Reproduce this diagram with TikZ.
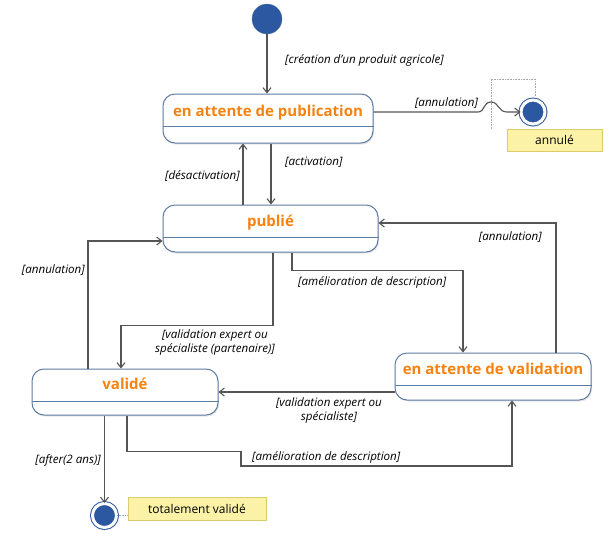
\documentclass[tikz,border=0pt]{standalone}
\usepackage{fontspec}
\setmainfont{Open Sans}
\usetikzlibrary{arrows.meta,shadows}
\definecolor{stateline}{HTML}{5B7BA3}
\definecolor{titleorange}{HTML}{F7820F}
\definecolor{dotblue}{HTML}{2B58A0}
\definecolor{notefill}{HTML}{FBF2A8}
\definecolor{noteline}{HTML}{DCCB6A}
\definecolor{arrowgray}{HTML}{555555}
\begin{document}
\begin{tikzpicture}[x=1pt,y=-1pt,
    state/.style={draw=stateline,line width=1pt,fill=white,rounded corners=12pt,
        drop shadow={opacity=0.2,shadow xshift=1pt,shadow yshift=-1.5pt},
        inner sep=0pt,text height=11pt,text depth=16pt,
        font=\fontsize{15}{17}\selectfont\bfseries,text=titleorange},
    start/.style={circle,fill=dotblue,draw=stateline,minimum size=30pt,inner sep=0pt},
    final/.style={circle,fill=dotblue,draw=dotblue,double=white,double distance=3pt,
        line width=1pt,minimum size=24pt,inner sep=0pt},
    note/.style={draw=noteline,fill=notefill,line width=0.8pt,inner sep=0pt,
        font=\fontsize{12}{14}\selectfont},
    guard/.style={font=\fontsize{11.6}{14}\selectfont\itshape,inner sep=1pt,align=center},
    trans/.style={draw=arrowgray,line width=1.1pt,-{Straight Barb[length=5pt,width=8pt]}},
    notelink/.style={draw=gray!70,densely dotted,line width=0.6pt}]
    \useasboundingbox (0,0) rectangle (612,550);

    \node[start] (init) at (267,19) {};
    \node[state,minimum width=210pt,minimum height=49pt] (pub) at (268,118.5) {en attente de publication};
    \node[state,minimum width=215pt,minimum height=47pt] (publie) at (270.5,228.5) {publié};
    \node[state,minimum width=196pt,minimum height=47pt] (attval) at (493,376.5) {en attente de validation};
    \node[state,minimum width=186pt,minimum height=46pt] (valide) at (125,392) {validé};
    \foreach \s in {pub,publie,attval,valide}
        \draw[stateline,line width=1pt] ([yshift=-33pt]\s.north west) -- ([yshift=-33pt]\s.north east);

    \node[final] (fin1) at (533,112) {};
    \node[final] (fin2) at (104.5,515.5) {};
    \node[note,minimum width=95pt,minimum height=22pt] (annule) at (554.5,140) {annulé};
    \node[note,minimum width=138pt,minimum height=23pt] (totval) at (197,508.5) {totalement validé};
    \draw[notelink] (491,129) -- (491,79) -- (535,79) -- (535,96);
    \draw[notelink] (fin2.east) -- (totval.west |- fin2.east);

    \coordinate (bend) at (241,466);

    \draw[trans] (init) -- (init |- pub.north);
    \draw[trans] (pub.east |- fin1) -- (478,112) .. controls (485,112) and (483,102) .. (491,102)
        .. controls (499,102) and (498,112) .. (507,112) -- (fin1);
    \draw[trans] ([xshift=-25pt]pub.south |- publie.north) -- ([xshift=-25pt]pub.south);
    \draw[trans] ([xshift=3pt]pub.south) -- ([xshift=3pt]pub.south |- publie.north);
    \draw[trans] ([xshift=-37pt]valide.north) |- ([yshift=-12.5pt]publie.west);
    \draw[trans] ([xshift=2.5pt]publie.south) -- ++(0,73) -| ([xshift=-4pt]valide.north);
    \draw[trans] ([xshift=21.5pt]publie.south) -- ++(0,18) -| ([xshift=-30pt]attval.north);
    \draw[trans] ([xshift=63pt]attval.north) |- ([yshift=5.5pt]publie.east);
    \draw[trans] (attval.west |- valide.east) -- (valide.east);
    \draw[trans] (valide.south -| fin2) -- (fin2);
    \draw[trans] ([xshift=2pt]valide.south) -- ++(0,36) -| (bend) -| ([xshift=19pt]attval.south);

    \node[guard,anchor=west] (lcreat) at (284,60) {[création d'un produit agricole]};
    \node[guard] (lann1) at (446.5,103) {[annulation]};
    \node[guard,anchor=west] (lact) at (284,162) {[activation]};
    \node[guard,anchor=east] (ldesact) at (241,176) {[désactivation]};
    \node[guard,anchor=east] (lann2) at (86,270) {[annulation]};
    \node[guard,anchor=west] (lamel1) at (297,282) {[amélioration de description]};
    \node[guard,anchor=east] (lann3) at (543,237) {[annulation]};
    \node[guard] (lvalp) at (215,342.5) {[validation expert ou\\spécialiste (partenaire)]};
    \node[guard] (lvals) at (329,410) {[validation expert ou\\spécialiste]};
    \node[guard,anchor=east] (lafter) at (102,460) {[after(2 ans)]};
    \node[guard,anchor=west] (lamel2) at (251,457) {[amélioration de description]};
\end{tikzpicture}
\end{document}
